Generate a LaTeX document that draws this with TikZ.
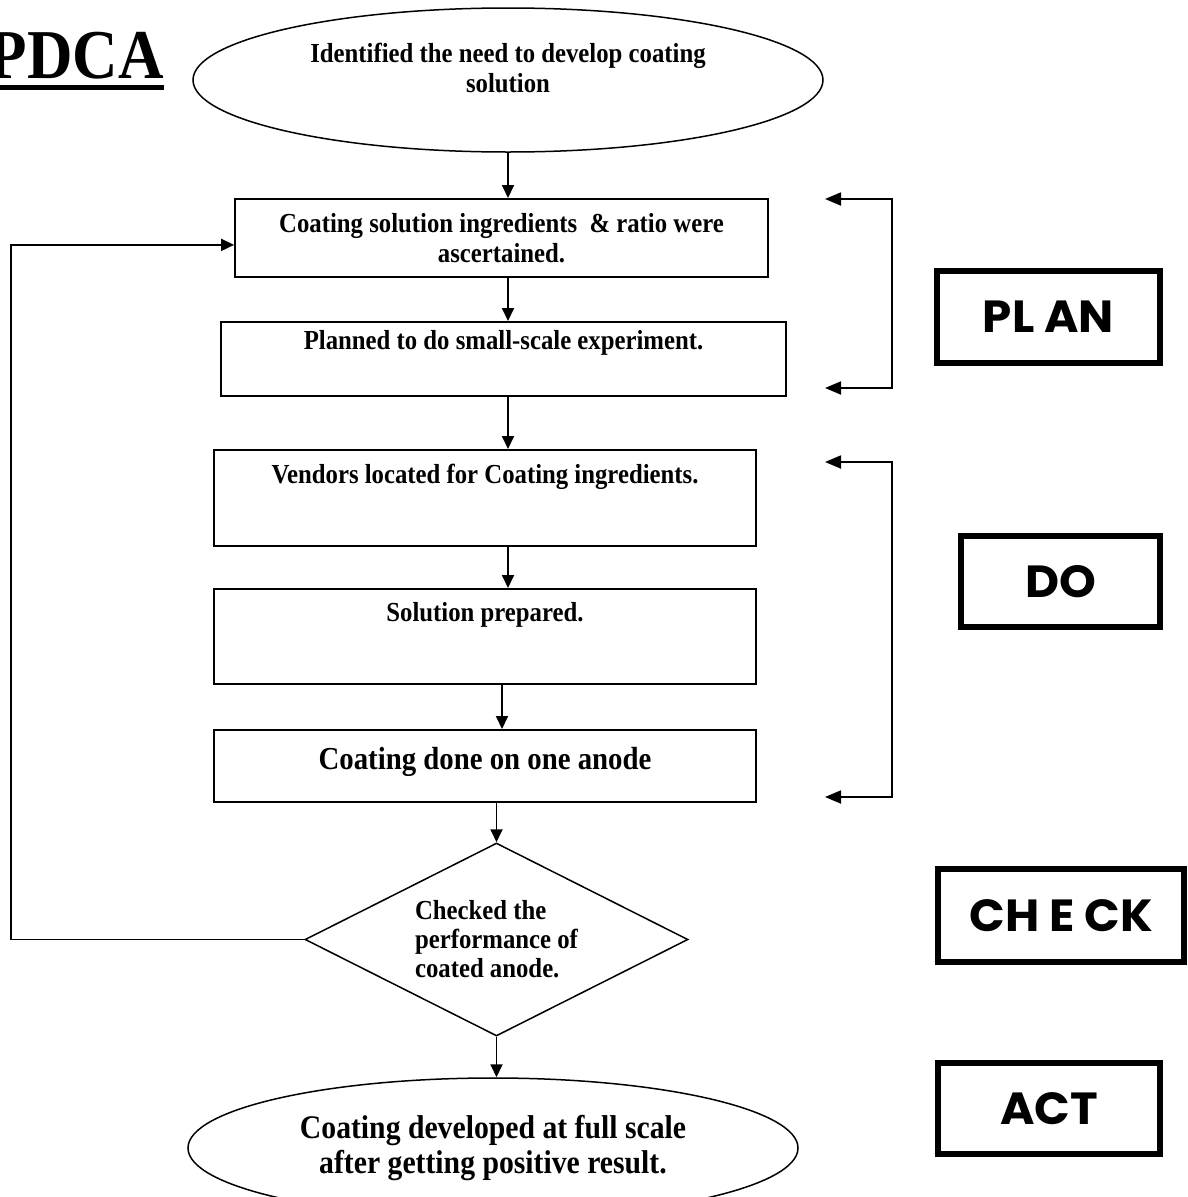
\documentclass[tikz,border=0pt]{standalone}
\usepackage{fontspec}
\setmainfont{Liberation Serif}[FakeStretch=0.9]
\newfontfamily\gothic{Poppins}[FakeStretch=1.04]
\usetikzlibrary{arrows.meta,shapes.geometric}

\begin{document}
\begin{tikzpicture}[x=1pt, y=-1pt,
    flow/.style={-{Triangle[length=13pt,width=12pt]}, line width=1.8pt},
    bracket/.style={{Triangle[length=16pt,width=13pt]}-{Triangle[length=16pt,width=13pt]}, line width=1.8pt},
    stepbox/.style={draw, line width=1.8pt, inner sep=0pt, anchor=north, font=\fontsize{27.5}{29.5}\selectfont\bfseries},
    terminal/.style={draw, ellipse, line width=1.5pt, inner sep=0pt, align=center},
    stage/.style={draw, line width=6pt, inner sep=0pt, font=\fontsize{45}{50}\selectfont\gothic\bfseries}]
    \clip (0,0) rectangle (1188,1197);

    % title
    \node[anchor=base east, inner sep=0pt, font=\fontsize{70}{80}\selectfont\bfseries] (title) at (164,78) {PDCA};
    \draw[line width=5pt] ([yshift=-9.5pt]title.base west) -- ([yshift=-9.5pt]title.base east);

    % start
    \node[terminal, minimum width=630pt, minimum height=144pt, font=\fontsize{27.5}{29.5}\selectfont\bfseries] (start) at (508,80)
        {\raisebox{2pt}[0pt][0pt]{\begin{tabular}{@{}c@{}}Identified the need to develop coating\\solution\end{tabular}}};

    % plan steps
    \node[stepbox, align=center, minimum width=533pt, minimum height=78pt] (ratio) at (501.5,198) {Coating solution ingredients \ \& ratio were\\ascertained.};
    \node[stepbox, minimum width=565pt, text height=28pt, text depth=46pt] (small) at (503.5,321) {Planned to do small-scale experiment.};

    % do steps
    \node[stepbox, minimum width=542pt, text height=34pt, text depth=62pt] (vendors) at (485,449) {Vendors located for Coating ingredients.};
    \node[stepbox, minimum width=542pt, text height=33pt, text depth=62pt] (prepared) at (485,588) {Solution prepared.};
    \node[stepbox, minimum width=542pt, text height=40pt, text depth=32pt, font=\fontsize{32}{36}\selectfont\bfseries] (anode) at (485,729) {Coating done on one anode};

    % check
    \node[draw, diamond, aspect=2, minimum width=383pt, minimum height=193pt, inner sep=0pt, line width=1.5pt, align=left, font=\fontsize{27.5}{29}\selectfont\bfseries] (check) at (496.5,939.5) {Checked the\\performance of\\coated anode.};

    % act
    \node[terminal, minimum width=610pt, minimum height=140pt, font=\fontsize{33}{35}\selectfont\bfseries] (finish) at (493,1148) {Coating developed at full scale\\after getting positive result.};

    % flow
    \draw[flow] (start.south) -- (ratio.north -| start.south);
    \draw[flow] (ratio.south -| start.south) -- (small.north -| start.south);
    \draw[flow] (small.south -| start.south) -- (vendors.north -| start.south);
    \draw[flow] (vendors.south -| start.south) -- (prepared.north -| start.south);
    \draw[flow] ([xshift=17pt]prepared.south) -- ([xshift=17pt]anode.north);
    \draw[flow] (anode.south -| check.north) -- (check.north);
    \draw[flow] (check.south) -- (check.south |- finish.north);

    % back to plan
    \draw[flow] (check.west) -- ++(-293,0) |- ([yshift=-7pt]ratio.west);

    % brackets
    \coordinate (plan a) at (825,199);
    \coordinate (plan b) at (825,388);
    \coordinate (do a) at (825,462);
    \coordinate (do b) at (825,797);
    \draw[bracket] (plan a) -- ++(67,0) |- (plan b);
    \draw[bracket] (do a) -- ++(67,0) |- (do b);

    % stages
    \node[stage, minimum width=223pt, minimum height=92pt] (plan) at (1048.5,317) {PL AN};
    \node[stage, minimum width=199pt, minimum height=91pt] (do) at (1060.5,581.5) {DO};
    \node[stage, minimum width=246pt, minimum height=93pt] (checkst) at (1061,915.5) {CH E CK};
    \node[stage, minimum width=222pt, minimum height=91pt] (act) at (1049,1108.5) {ACT};
\end{tikzpicture}
\end{document}
